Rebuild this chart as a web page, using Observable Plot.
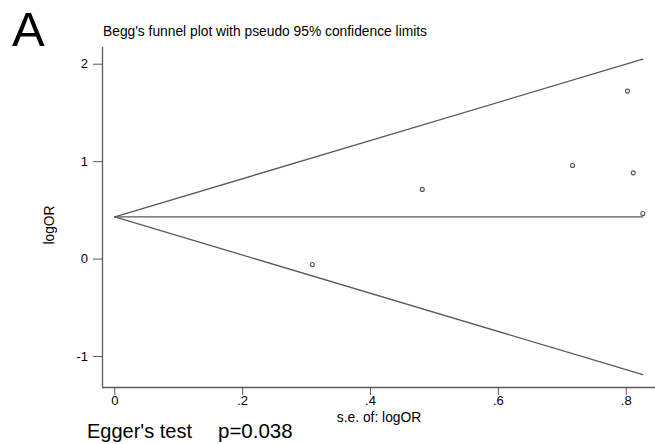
<!DOCTYPE html>
<html><head><meta charset="utf-8">
<script src="https://cdn.jsdelivr.net/npm/d3@7"></script>
<script src="https://cdn.jsdelivr.net/npm/@observablehq/plot@0.6"></script>
<style>
body{margin:0;background:#fff;font-family:"Liberation Sans",Arial,sans-serif;}
#wrap{position:relative;width:655px;height:444px;overflow:hidden;}
#wrap svg{position:absolute;left:0;top:0;}
.t{position:absolute;white-space:nowrap;color:#000;line-height:1;}
</style></head><body>
<div id="wrap">
<div id="chart"></div>
<div class="t" style="left:12px;top:5px;font-size:49px;">A</div>
<div class="t" style="left:103px;top:25px;font-size:13.8px;">Begg's funnel plot with pseudo 95% confidence limits</div>
<div class="t" style="left:50px;top:225px;font-size:13.8px;transform:translate(-50%,-50%) rotate(-90deg);">logOR</div>
<div class="t" style="left:379px;top:411px;font-size:13.8px;transform:translateX(-50%);">s.e. of: logOR</div>
<div class="t" style="left:87px;top:421px;font-size:20px;">Egger's test</div>
<div class="t" style="left:218px;top:421px;font-size:20.5px;">p=0.038</div>
</div>
<script>
// study data: standard error and log odds ratio
const seValues = [0.309, 0.481, 0.716, 0.802, 0.811, 0.826];
const logORValues = [-0.055, 0.715, 0.961, 1.724, 0.885, 0.468];
const pooledLogOR = 0.433;
const xTicks = [0, 0.2, 0.4, 0.6, 0.8];
const yTicks = [-1, 0, 1, 2];
const xDomain = [-0.0192, 0.8458];
const yDomain = [-1.318, 2.1715];

const studies = seValues.map((se, i) => ({se, logOR: logORValues[i]}));
const maxSe = d3.max(seValues);
const limits = [0, maxSe].map(se => ({se, lo: pooledLogOR - 1.96 * se, hi: pooledLogOR + 1.96 * se, mid: pooledLogOR}));

const fmtX = d => d === 0 ? "0" : String(d).replace(/^0/, "");
const lineCol = "#5a5a5a";

const chart = Plot.plot({
  width: 655,
  height: 444,
  marginLeft: 102,
  marginRight: 0,
  marginTop: 47,
  marginBottom: 57,
  style: {fontFamily: "Liberation Sans, Arial, sans-serif", color: "#000", background: "transparent"},
  x: {domain: xDomain},
  y: {domain: yDomain},
  marks: [
    Plot.ruleX([xDomain[0]], {stroke: lineCol, strokeWidth: 1.3}),
    Plot.ruleY([yDomain[0]], {stroke: lineCol, strokeWidth: 1.3}),
    Plot.axisY({ticks: yTicks, tickSize: 9, tickPadding: 5.5, fontSize: 13, tickFormat: d => String(d), label: null, stroke: lineCol}),
    Plot.axisX({ticks: xTicks, tickSize: 8, tickPadding: 0, fontSize: 13, tickFormat: fmtX, label: null, stroke: lineCol}),
    Plot.line(limits, {x: "se", y: "hi", stroke: lineCol, strokeWidth: 1.3}),
    Plot.line(limits, {x: "se", y: "lo", stroke: lineCol, strokeWidth: 1.3}),
    Plot.line(limits, {x: "se", y: "mid", stroke: lineCol, strokeWidth: 1.3}),
    Plot.dot(studies, {x: "se", y: "logOR", r: 2, stroke: "#555", strokeWidth: 1.1, fill: "none"})
  ]
});
document.getElementById("chart").appendChild(chart);
</script>
</body></html>
